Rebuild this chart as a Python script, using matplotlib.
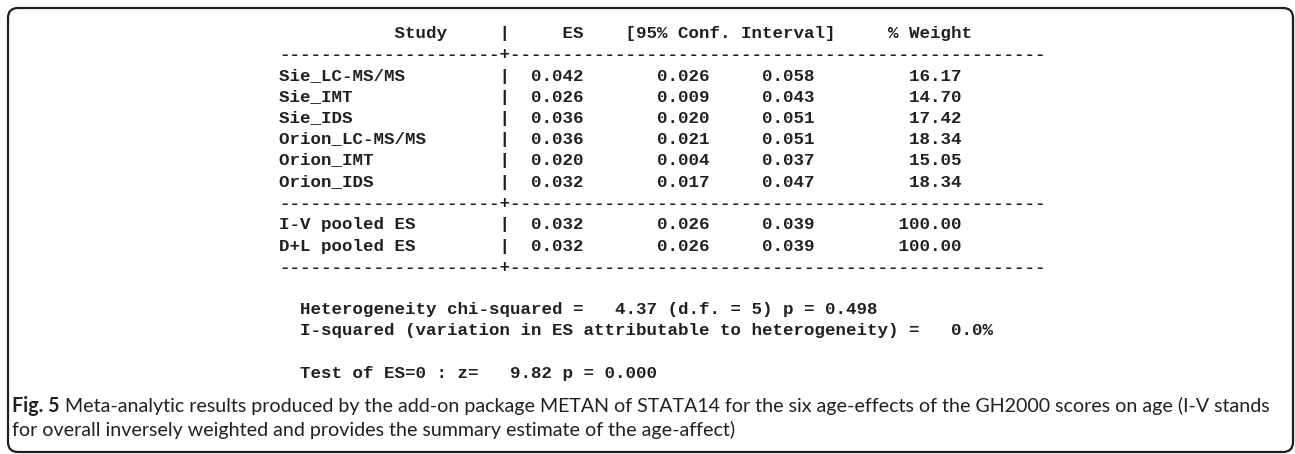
import matplotlib
matplotlib.use("Agg")
import matplotlib.pyplot as plt
from matplotlib.patches import FancyBboxPatch

# ---------------- data ----------------
header_study = "Study"
header_es = "ES"
header_ci = "[95% Conf. Interval]"
header_weight = "% Weight"

studies = ["Sie_LC-MS/MS", "Sie_IMT", "Sie_IDS",
           "Orion_LC-MS/MS", "Orion_IMT", "Orion_IDS"]
es = [0.042, 0.026, 0.036, 0.036, 0.020, 0.032]
ci_low = [0.026, 0.009, 0.020, 0.021, 0.004, 0.017]
ci_high = [0.058, 0.043, 0.051, 0.051, 0.037, 0.047]
weight = [16.17, 14.70, 17.42, 18.34, 15.05, 18.34]

pooled_labels = ["I-V pooled ES", "D+L pooled ES"]
pooled_es = [0.032, 0.032]
pooled_low = [0.026, 0.026]
pooled_high = [0.039, 0.039]
pooled_weight = [100.00, 100.00]

het_chi2 = 4.37
het_df = 5
het_p = 0.498
i_squared = 0.0
z_value = 9.82
z_p = 0.000

caption_bold = "Fig. 5"
caption_line1 = ("Meta-analytic results produced by the add-on package METAN of STATA14 "
                 "for the six age-effects of the GH2000 scores on age (I-V stands")
caption_line2 = ("for overall inversely weighted and provides the summary estimate "
                 "of the age-affect)")

# ---------------- build STATA text lines ----------------
def fmt_row(label, e, lo, hi, w):
    return (f"{label:<21}|  {e:5.3f}       {lo:5.3f}     {hi:5.3f}"
            + " " * 8 + f"{w:6.2f}")

dash = "-" * 21 + "+" + "-" * 51
header = (" " * 11 + header_study + " " * 5 + "|" + " " * 5 + header_es
          + " " * 4 + header_ci + " " * 5 + header_weight)

lines = {0: header, 1: dash}
for i in range(len(studies)):
    lines[2 + i] = fmt_row(studies[i], es[i], ci_low[i], ci_high[i], weight[i])
lines[8] = dash
for j in range(len(pooled_labels)):
    lines[9 + j] = fmt_row(pooled_labels[j], pooled_es[j], pooled_low[j],
                           pooled_high[j], pooled_weight[j])
lines[11] = dash
lines[13] = (f"  Heterogeneity chi-squared = {het_chi2:6.2f} (d.f. = {het_df}) "
             f"p = {het_p:.3f}")
lines[14] = (f"  I-squared (variation in ES attributable to heterogeneity) ="
             f"{i_squared:6.1f}%")
lines[16] = f"  Test of ES=0 : z={z_value:7.2f} p = {z_p:.3f}"

# ---------------- figure ----------------
W, H, DPI = 1295, 454, 100
fig = plt.figure(figsize=(W / DPI, H / DPI), dpi=DPI)
fig.patch.set_facecolor("white")
ax = fig.add_axes([0, 0, 1, 1])
ax.set_xlim(0, W)
ax.set_ylim(H, 0)
ax.axis("off")

# rounded border
box = FancyBboxPatch((8, 8), 1285, 444,
                     boxstyle="round,pad=0,rounding_size=10",
                     fill=False, lw=1.6, ec="#1e1e1e")
ax.add_patch(box)

# monospace block
cw = 10.5                       # character cell width in px
mono_fs = cw / 0.6 * 72 / DPI   # font size in pt
x0 = 279
y0 = 32
lh = 21.25
for idx, s in lines.items():
    yc = y0 + idx * lh
    ax.text(x0, yc + 6, s, family="Liberation Mono", fontweight="bold",
            fontsize=mono_fs, color="#202020", va="baseline", ha="left")

# caption (fit line 1 width)
cap_x = 12
cap_right = 1265
cap_y1 = 412
cap_y2 = 436
cap_family = "Lato"
cap_color = "#231f20"

fig.canvas.draw()
renderer = fig.canvas.get_renderer()

fs0 = 13.0
tb = ax.text(cap_x, cap_y1, caption_bold, family=cap_family, fontweight="bold",
             fontsize=fs0, color=cap_color, va="baseline", ha="left")
tr = ax.text(0, cap_y1, " " + caption_line1, family=cap_family,
             fontsize=fs0, color=cap_color, va="baseline", ha="left")
wb = tb.get_window_extent(renderer).width
wr = tr.get_window_extent(renderer).width
scale = (cap_right - cap_x) / (wb + wr)
fs = fs0 * scale
tb.set_fontsize(fs)
tr.set_fontsize(fs)
wb = tb.get_window_extent(renderer).width
tr.set_x(cap_x + wb)
ax.text(cap_x, cap_y2, caption_line2, family=cap_family, fontsize=fs,
        color=cap_color, va="baseline", ha="left")

fig.savefig("out.png", dpi=DPI, facecolor="white")
